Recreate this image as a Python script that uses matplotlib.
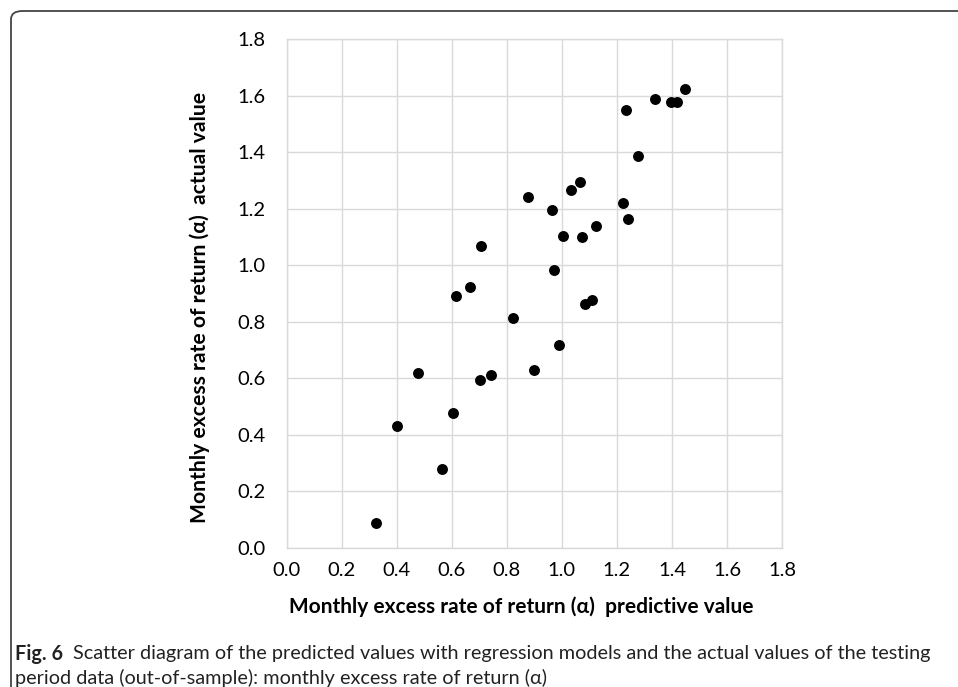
import matplotlib
matplotlib.use("Agg")
import matplotlib.pyplot as plt
from matplotlib.patches import FancyBboxPatch

plt.rcParams['font.family'] = ['Lato', 'DejaVu Sans']

# predicted (x) vs actual (y) monthly excess return
predicted = [1.447, 1.337, 1.395, 1.417, 1.232, 1.275, 1.065, 1.034, 0.878, 1.221,
             0.964, 1.240, 1.125, 1.004, 1.074, 0.706, 0.973, 0.666, 0.616, 1.084,
             1.111, 0.824, 0.990, 0.476, 0.742, 0.702, 0.899, 0.606, 0.400, 0.566,
             0.324]
actual = [1.622, 1.588, 1.578, 1.578, 1.549, 1.387, 1.294, 1.265, 1.241, 1.221,
          1.196, 1.162, 1.137, 1.103, 1.098, 1.069, 0.982, 0.921, 0.892, 0.862,
          0.877, 0.814, 0.716, 0.618, 0.612, 0.593, 0.628, 0.476, 0.432, 0.280,
          0.088]
ticks = [0.0, 0.2, 0.4, 0.6, 0.8, 1.0, 1.2, 1.4, 1.6, 1.8]

xlabel = "Monthly excess rate of return (\u03b1)  predictive value"
ylabel = "Monthly excess rate of return (\u03b1)  actual value"
cap_bold = "Fig. 6"
cap_line1 = "Scatter diagram of the predicted values with regression models and the actual values of the testing"
cap_line2 = "period data (out-of-sample): monthly excess rate of return (\u03b1)"

W, H = 958, 687
fig = plt.figure(figsize=(W / 100, H / 100), dpi=100)

# frame around the figure panel (open to the right and bottom)
frame = FancyBboxPatch((11 / W, -0.2), 1.2, 1.2 - 11 / H,
                       boxstyle="round,pad=0,rounding_size=0.012",
                       transform=fig.transFigure, fill=False,
                       edgecolor='#444444', linewidth=1.3, clip_on=False)
fig.patches.append(frame)

ax = fig.add_axes([286.7 / W, 1 - 547.7 / H, 495.3 / W, 508.7 / H])
ax.scatter(predicted, actual, s=62, color='black', zorder=3, linewidths=0)
ax.set_xlim(0, 1.8)
ax.set_ylim(0, 1.8)
ax.set_xticks(ticks)
ax.set_yticks(ticks)
ax.set_xticklabels([f"{t:.1f}" for t in ticks])
ax.set_yticklabels([f"{t:.1f}" for t in ticks])
ax.grid(True, color='#d9d9d9', linewidth=1.0)
ax.set_axisbelow(True)
for s in ax.spines.values():
    s.set_color('#d9d9d9')
    s.set_linewidth(1.0)
ax.tick_params(length=0, labelsize=14.5, colors='black')
ax.tick_params(axis='y', pad=15)
ax.tick_params(axis='x', pad=10)

fig.text(521 / W, 1 - 607 / H, xlabel, ha='center', va='center',
         fontsize=15, fontweight='bold')
fig.text(200 / W, 1 - 307 / H, ylabel, ha='center', va='center',
         rotation=90, fontsize=15.2, fontweight='bold')

# caption with bold figure number
t1 = fig.text(15 / W, 1 - 654 / H, cap_bold, ha='left', va='center',
              fontsize=14.3, fontweight='bold', color='#222222')
fig.canvas.draw()
bb = t1.get_window_extent()
fig.text((bb.x1 + 10) / W, 1 - 654 / H, cap_line1, ha='left', va='center',
         fontsize=14.3, color='#222222')
fig.text(15 / W, 1 - 678 / H, cap_line2, ha='left', va='center',
         fontsize=14.3, color='#222222')

fig.savefig("out.png", dpi=100)
